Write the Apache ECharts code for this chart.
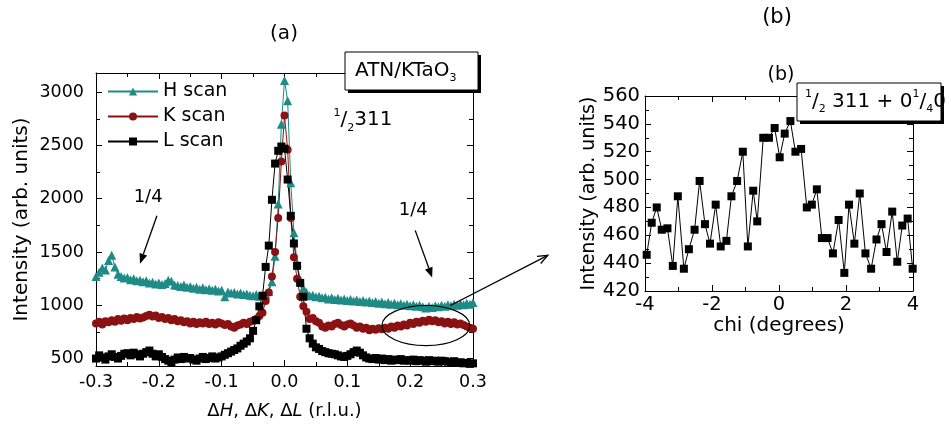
<!DOCTYPE html>
<html>
<head>
<meta charset="utf-8">
<script src="https://cdn.jsdelivr.net/npm/echarts@6/dist/echarts.min.js"></script>
<style>
  html, body { margin: 0; padding: 0; background: #fff; }
  #main { width: 951px; height: 429px; }
</style>
</head>
<body>
<div id="main"></div>
<script>
// scan positions (r.l.u.) shared by the three scans
var dq = [-0.300,-0.295,-0.290,-0.285,-0.280,-0.275,-0.270,-0.265,-0.260,-0.255,
  -0.250,-0.245,-0.240,-0.235,-0.230,-0.225,-0.220,-0.215,-0.210,-0.205,
  -0.200,-0.195,-0.190,-0.185,-0.180,-0.175,-0.170,-0.165,-0.160,-0.155,
  -0.150,-0.145,-0.140,-0.135,-0.130,-0.125,-0.120,-0.115,-0.110,-0.105,
  -0.100,-0.095,-0.090,-0.085,-0.080,-0.075,-0.070,-0.065,-0.060,-0.055,
  -0.050,-0.045,-0.040,-0.035,-0.030,-0.025,-0.020,-0.015,-0.010,-0.005,
  0.000,0.005,0.010,0.015,0.020,0.025,0.030,0.035,0.040,0.045,
  0.050,0.055,0.060,0.065,0.070,0.075,0.080,0.085,0.090,0.095,
  0.100,0.105,0.110,0.115,0.120,0.125,0.130,0.135,0.140,0.145,
  0.150,0.155,0.160,0.165,0.170,0.175,0.180,0.185,0.190,0.195,
  0.200,0.205,0.210,0.215,0.220,0.225,0.230,0.235,0.240,0.245,
  0.250,0.255,0.260,0.265,0.270,0.275,0.280,0.285,0.290,0.295,0.300];

var hScan = [1270,1310,1350,1330,1420,1470,1360,1290,1270,1255,
  1260,1240,1250,1230,1235,1220,1230,1210,1215,1200,
  1210,1195,1205,1235,1225,1190,1185,1175,1190,1170,
  1175,1160,1170,1150,1165,1145,1155,1140,1150,1135,
  1140,1080,1125,1115,1120,1105,1115,1100,1105,1095,
  1090,1100,1085,1090,1100,1130,1220,1460,1950,2700,
  3110,2920,2150,1680,1400,1240,1160,1120,1090,1095,
  1080,1085,1070,1075,1060,1070,1055,1065,1050,1060,
  1045,1055,1040,1050,1035,1045,1030,1040,1025,1035,
  1020,1030,1015,1025,1010,1020,1005,1015,1000,1010,
  995,1005,990,1000,985,975,990,980,995,985,
  1000,990,1005,995,1010,1000,1015,1005,1020,1010,1025];

var kScan = [830,845,820,850,840,860,845,870,855,875,
  860,880,870,890,875,885,900,910,895,905,
  880,890,870,880,860,870,850,860,840,850,
  830,845,825,840,830,845,825,835,820,840,
  830,815,825,800,790,810,820,835,825,845,
  855,870,900,930,1040,1120,1270,1500,1820,2350,
  2780,2460,1820,1450,1250,1080,990,940,870,880,
  850,835,800,790,810,800,825,835,815,800,
  820,830,810,790,800,780,790,765,780,770,
  785,775,790,780,800,790,810,800,820,810,
  835,825,845,835,855,845,865,850,860,840,
  850,830,845,825,840,820,830,815,800,790,780];

var lScan = [500,530,510,490,520,540,515,500,525,545,
  550,530,555,540,520,545,560,575,545,520,
  540,515,495,480,465,490,510,495,515,500,
  505,490,480,500,515,495,505,520,500,510,
  520,535,550,565,580,595,620,640,660,690,
  760,860,990,1090,1360,1560,1990,2330,2450,2490,
  2470,2180,1840,1580,1370,1210,1080,780,690,640,
  605,590,570,560,550,545,540,530,520,515,
  525,540,560,575,555,530,510,500,495,505,
  490,500,485,495,480,490,485,495,480,485,
  480,490,475,485,480,470,485,475,480,470,
  480,475,470,465,475,460,465,455,460,450,455];

// panel (b): chi scan at the 1/4 position
var chi = [-3.95,-3.80,-3.65,-3.50,-3.33,-3.17,-3.02,-2.84,-2.69,-2.52,
  -2.37,-2.21,-2.06,-1.89,-1.74,-1.57,-1.42,-1.25,-1.08,-0.93,
  -0.77,-0.65,-0.47,-0.30,-0.13,0.02,0.17,0.34,0.49,0.66,
  0.83,0.98,1.13,1.28,1.45,1.61,1.78,1.95,2.09,2.25,
  2.41,2.58,2.75,2.91,3.06,3.21,3.38,3.53,3.68,3.84,3.99];
var chiIntensity = [446,469,480,464,465,438,488,436,450,464,
  499,468,454,482,452,456,488,499,520,452,
  492,470,530,530,537,516,533,542,520,522,
  480,482,493,458,458,447,471,433,482,454,
  490,447,436,457,468,448,477,441,467,472,436];

var scanNames = ['H scan', 'K scan', 'L scan'];
var scanColors = ['#1f8b86', '#8b1212', '#000000'];
var scanSymbols = ['triangle', 'circle', 'rect'];
var scanSizes = [9, 8, 8];

var FONT = 'DejaVu Sans';

function pairs(xs, ys) {
  return xs.map(function (x, i) { return [x, ys[i]]; });
}

function frameAxis(cfg) {
  var base = {
    type: 'value',
    axisLine: { show: true, onZero: false, lineStyle: { color: '#000', width: 1 } },
    axisTick: { show: true, inside: true, length: 6, lineStyle: { color: '#000' } },
    minorTick: { show: true, splitNumber: 2, length: 4, lineStyle: { color: '#000' } },
    splitLine: { show: false },
    axisLabel: { show: false },
    nameTextStyle: { fontFamily: FONT, color: '#000' }
  };
  return Object.assign(base, cfg);
}

var option = {
  animation: false,
  backgroundColor: '#fff',
  grid: [
    { left: 96, top: 73, right: 478, bottom: 63 },
    { left: 645, top: 96, right: 38, bottom: 138 }
  ],
  legend: {
    data: scanNames,
    orient: 'vertical',
    left: 102,
    top: 77,
    itemWidth: 50,
    itemHeight: 10,
    itemGap: 6,
    textStyle: { fontFamily: FONT, fontSize: 19, color: '#000' }
  },
  xAxis: [
    frameAxis({
      gridIndex: 0, position: 'bottom', min: -0.3, max: 0.3, interval: 0.1,
      axisLabel: { show: true, margin: 7, fontFamily: FONT, fontSize: 17.5, color: '#000',
        formatter: function (v) { return v.toFixed(1); } },
      name: '{n|Δ}{i|H}{n|, Δ}{i|K}{n|, Δ}{i|L}{n| (r.l.u.)}',
      nameLocation: 'middle', nameGap: 36,
      nameTextStyle: { rich: {
        n: { fontFamily: FONT, fontSize: 18, color: '#000' },
        i: { fontFamily: FONT, fontSize: 18, fontStyle: 'italic', color: '#000' }
      } }
    }),
    frameAxis({ gridIndex: 0, position: 'top', min: -0.3, max: 0.3, interval: 0.1 }),
    frameAxis({
      gridIndex: 1, position: 'bottom', min: -4, max: 4, interval: 2,
      axisLabel: { show: true, margin: 4, fontFamily: FONT, fontSize: 19.5, color: '#000' },
      name: 'chi (degrees)', nameLocation: 'middle', nameGap: 24,
      nameTextStyle: { fontFamily: FONT, fontSize: 20, color: '#000' }
    }),
    frameAxis({ gridIndex: 1, position: 'top', min: -4, max: 4, interval: 2 })
  ],
  yAxis: [
    frameAxis({
      gridIndex: 0, position: 'left', min: 430, max: 3180,
      axisLabel: { show: true, margin: 12, fontFamily: FONT, fontSize: 17.5, color: '#000',
        showMinLabel: false, showMaxLabel: false,
        formatter: function (v) { return String(Math.round(v)); } },
      name: 'Intensity (arb. units)', nameLocation: 'middle', nameGap: 64,
      nameTextStyle: { fontFamily: FONT, fontSize: 20, color: '#000' }
    }),
    frameAxis({ gridIndex: 0, position: 'right', min: 430, max: 3180 }),
    frameAxis({
      gridIndex: 1, position: 'left', min: 420, max: 560, interval: 20,
      axisLabel: { show: true, margin: 5, fontFamily: FONT, fontSize: 19.5, color: '#000' },
      name: 'Intensity (arb. units)', nameLocation: 'middle', nameGap: 44,
      nameTextStyle: { fontFamily: FONT, fontSize: 19, color: '#000' }
    }),
    frameAxis({ gridIndex: 1, position: 'right', min: 420, max: 560, interval: 20 })
  ],
  series: [
    { name: scanNames[0], data: pairs(dq, hScan), symbol: scanSymbols[0], symbolSize: scanSizes[0] },
    { name: scanNames[1], data: pairs(dq, kScan), symbol: scanSymbols[1], symbolSize: scanSizes[1] },
    { name: scanNames[2], data: pairs(dq, lScan), symbol: scanSymbols[2], symbolSize: scanSizes[2] }
  ].map(function (s, i) {
    return Object.assign({
      type: 'line', xAxisIndex: 0, yAxisIndex: 0,
      lineStyle: { color: scanColors[i], width: 1 },
      itemStyle: { color: scanColors[i] },
      emphasis: { disabled: true }
    }, s);
  }).concat([{
    name: 'chi scan', type: 'line', xAxisIndex: 2, yAxisIndex: 2,
    data: pairs(chi, chiIntensity),
    symbol: 'rect', symbolSize: 8,
    lineStyle: { color: '#000', width: 1 },
    itemStyle: { color: '#000' },
    emphasis: { disabled: true }
  }])
};

var chart = echarts.init(document.getElementById('main'), null, { width: 951, height: 429 });
chart.setOption(option);

// annotations are anchored in panel (a) data coordinates
function px(p) { return chart.convertToPixel({ seriesIndex: 0 }, p); }

function arrow(from, to, filled) {
  var dx = to[0] - from[0], dy = to[1] - from[1];
  var len = Math.sqrt(dx * dx + dy * dy);
  var ux = dx / len, uy = dy / len;
  var bx = to[0] - ux * 10, by = to[1] - uy * 10;
  var left = [bx - uy * 4, by + ux * 4], right = [bx + uy * 4, by - ux * 4];
  var end = filled ? [bx, by] : to;
  var items = [{ type: 'line', z: 100, shape: { x1: from[0], y1: from[1], x2: end[0], y2: end[1] },
    style: { stroke: '#000', lineWidth: 1.3 } }];
  if (filled) {
    items.push({ type: 'polygon', z: 100, shape: { points: [to, left, right] }, style: { fill: '#000' } });
  } else {
    items.push({ type: 'polyline', z: 100, shape: { points: [left, to, right] },
      style: { stroke: '#000', lineWidth: 1.3, fill: null } });
  }
  return items;
}

function label(text, x, y, size, align, rich) {
  return { type: 'text', z: 101, x: x, y: y,
    style: { text: text, fontFamily: FONT, fontSize: size, fill: '#000',
      align: align || 'center', verticalAlign: 'middle', rich: rich } };
}

function box(x, y, w, h) {
  return [
    { type: 'rect', z: 99, shape: { x: x + 3, y: y + 3, width: w, height: h }, style: { fill: '#000' } },
    { type: 'rect', z: 99, shape: { x: x, y: y, width: w, height: h }, style: { fill: '#fff', stroke: '#000', lineWidth: 1 } }
  ];
}

var supSub = {
  n: { fontFamily: FONT, fontSize: 20, lineHeight: 26, fill: '#000' },
  sup: { fontFamily: FONT, fontSize: 11, lineHeight: 11, verticalAlign: 'top', fill: '#000' },
  sub: { fontFamily: FONT, fontSize: 11, lineHeight: 11, verticalAlign: 'bottom', fill: '#000' }
};

var c = px([0.225, 810]);
var rx = px([0.295, 810])[0] - c[0];
var ry = c[1] - px([0.225, 998])[1];
var peakPos = px([0.078, 2737]);
var qL = px([-0.217, 2013]);
var qR = px([0.205, 1891]);

var graphics = []
  .concat([label('(a)', 284, 34, 20), label('(b)', 777, 18, 21), label('(b)', 781, 75, 19)])
  .concat(box(345, 52, 133, 38))
  .concat([label('{n|ATN/KTaO}{sub|3}', 355, 71, 20, 'left', supSub)])
  .concat(box(797, 83, 144, 38))
  .concat([label('{sup|1}{n|/}{sub|2}{n| 311 + 0}{sup|1}{n|/}{sub|4}{n|0}', 805, 102, 20, 'left', supSub)])
  .concat([label('{sup|1}{n|/}{sub|2}{n|311}', peakPos[0], peakPos[1], 20, 'left', supSub)])
  .concat([label('1/4', qL[0], qL[1], 18), label('1/4', qR[0], qR[1], 18)])
  .concat(arrow(px([-0.203, 1840]), px([-0.230, 1390]), true))
  .concat(arrow(px([0.208, 1703]), px([0.235, 1261]), true))
  .concat([{ type: 'ellipse', z: 100, shape: { cx: c[0], cy: c[1], rx: rx, ry: ry },
    style: { fill: null, stroke: '#000', lineWidth: 1.2 } }])
  .concat(arrow(px([0.264, 998]), px([0.419, 1468]), false));

chart.setOption({ graphic: graphics });
</script>
</body>
</html>
